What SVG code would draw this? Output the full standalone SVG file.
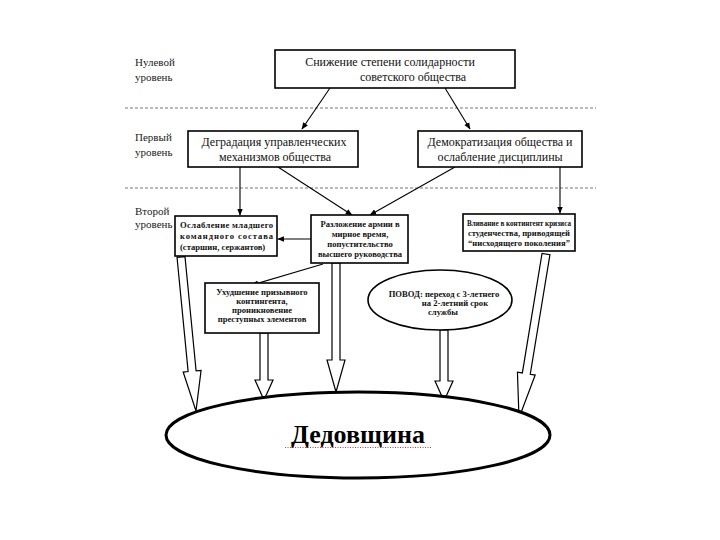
<svg xmlns="http://www.w3.org/2000/svg" width="720" height="540" viewBox="0 0 720 540">
<style>
  text{font-family:'Liberation Serif','Times New Roman',serif}
  .lvl{font-size:11px;fill:#222}
  .box{fill:#fff;stroke:#000;stroke-width:1.6}
  .t12{font-size:12px;fill:#111;text-anchor:middle}
  .t9{font-size:8.6px;font-weight:bold;fill:#111;text-anchor:middle}
  .dash{stroke:#777;stroke-width:1;stroke-dasharray:3,2}
  .ln{stroke:#000;stroke-width:1.1;fill:none;marker-end:url(#ah)}
  .blk{fill:#fff;stroke:#000;stroke-width:1.2;stroke-linejoin:miter}
</style>
<defs>
  <marker id="ah" viewBox="0 0 10 10" refX="9" refY="5" markerWidth="7" markerHeight="7" orient="auto" markerUnits="userSpaceOnUse">
    <path d="M0,1 L10,5 L0,9 Z" fill="#000"/>
  </marker>
</defs>
<rect width="720" height="540" fill="#fff"/>

<g id="levels">
  <text class="lvl" x="135" y="66">Нулевой</text>
  <text class="lvl" x="135" y="81">уровень</text>
  <text class="lvl" x="135" y="141">Первый</text>
  <text class="lvl" x="135" y="156">уровень</text>
  <text class="lvl" x="135" y="215">Второй</text>
  <text class="lvl" x="135" y="228">уровень</text>
  <line class="dash" x1="125" y1="108" x2="596" y2="108"/>
  <line class="dash" x1="125" y1="188" x2="596" y2="188"/>
</g>

<g id="connectors">
  <line class="ln" x1="330" y1="88" x2="302" y2="129"/>
  <line class="ln" x1="445" y1="88" x2="470" y2="129"/>
  <line class="ln" x1="240" y1="167" x2="240" y2="215"/>
  <line class="ln" x1="278" y1="167" x2="352" y2="215"/>
  <line class="ln" x1="455" y1="167" x2="370" y2="215"/>
  <line class="ln" x1="560" y1="167" x2="560" y2="213"/>
  <line class="ln" x1="311" y1="239" x2="278" y2="239"/>
  <line class="ln" x1="323" y1="264" x2="252" y2="285"/>
  <polygon class="blk" points="184.98,256.61 196.10,370.80 201.08,370.32 196,411 183.16,372.06 188.14,371.58 177.02,257.39"/>
  <polygon class="blk" points="260,333 260,380 255,380 264,400 273,380 268,380 268,333"/>
  <polygon class="blk" points="332,263 332,360 327,360 336,392 345,360 340,360 340,263"/>
  <polygon class="blk" points="440,330 440,381 435,381 444,401 453,381 448,381 448,330"/>
  <polygon class="blk" points="549.95,254.65 530.26,374.25 535.19,375.06 519,418 517.43,372.14 522.36,372.95 542.05,253.35"/>
</g>

<g id="node-top">
  <rect class="box" x="275" y="50" width="240" height="38" stroke-width="2"/>
  <text class="t12" x="390" y="66">Снижение степени солидарности</text>
  <text class="t12" x="413" y="81">советского общества</text>
</g>

<g id="node-degradation">
  <rect class="box" x="188" y="131" width="170" height="36"/>
  <text class="t12" x="274" y="146">Деградация управленческих</text>
  <text class="t12" x="275" y="161">механизмов общества</text>
</g>

<g id="node-democratization">
  <rect class="box" x="418" y="131" width="164" height="36"/>
  <text class="t12" x="500" y="146">Демократизация общества и</text>
  <text class="t12" x="500" y="161">ослабление дисциплины</text>
</g>

<g id="node-nco">
  <rect class="box" x="175" y="216" width="102" height="40"/>
  <text class="t9" x="180" y="228" textLength="93" lengthAdjust="spacing" style="text-anchor:start">Ослабление младшего</text>
  <text class="t9" x="180" y="239" textLength="93" lengthAdjust="spacing" style="text-anchor:start">командного состава</text>
  <text class="t9" x="180" y="250" style="text-anchor:start">(старшин, сержантов)</text>
</g>

<g id="node-army">
  <rect class="box" x="311" y="215" width="97" height="48"/>
  <text class="t9" x="360" y="227">Разложение армии в</text>
  <text class="t9" x="360" y="237">мирное время,</text>
  <text class="t9" x="360" y="247">попустительство</text>
  <text class="t9" x="360" y="257">высшего руководства</text>
</g>

<g id="node-students">
  <rect class="box" x="463" y="214" width="112" height="37"/>
  <text class="t9" x="467" y="226" textLength="104" lengthAdjust="spacingAndGlyphs" style="text-anchor:start">Вливание в контингент кризиса</text>
  <text class="t9" x="468" y="236" textLength="102" lengthAdjust="spacingAndGlyphs" style="text-anchor:start">студенчества, приводящей</text>
  <text class="t9" x="519" y="246">“нисходящего поколения”</text>
</g>

<g id="node-conscripts">
  <rect class="box" x="205" y="283" width="114" height="50"/>
  <text class="t9" x="262" y="295">Ухудшение призывного</text>
  <text class="t9" x="262" y="304">контингента,</text>
  <text class="t9" x="262" y="313">проникновение</text>
  <text class="t9" x="262" y="322">преступных элементов</text>
</g>

<g id="node-reason">
  <ellipse cx="440" cy="300" rx="72" ry="30" fill="#fff" stroke="#000" stroke-width="1.6"/>
  <text class="t9" x="444" y="297">ПОВОД: переход с 3-летнего</text>
  <text class="t9" x="455" y="306">на 2-летний срок</text>
  <text class="t9" x="443" y="315">службы</text>
</g>

<g id="node-hazing">
  <ellipse cx="358" cy="435" rx="192" ry="43" fill="#fff" stroke="#000" stroke-width="3"/>
  <text x="358" y="443" style="font-size:26px;font-weight:bold;text-anchor:middle;fill:#000">Дедовщина</text>
  <line x1="285" y1="447.5" x2="432" y2="447.5" stroke="#d33" stroke-width="1" stroke-dasharray="1,1.5"/>
</g>
</svg>
